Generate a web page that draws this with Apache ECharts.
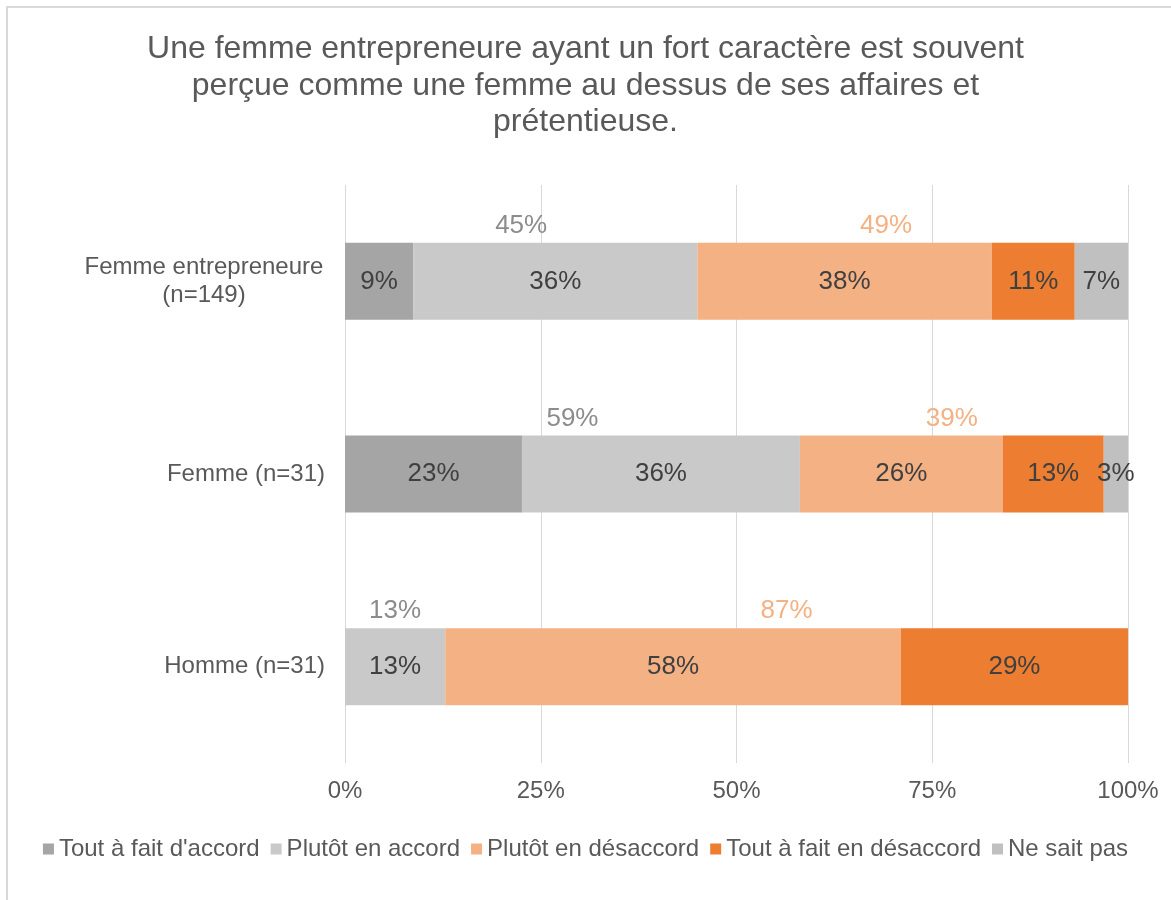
<!DOCTYPE html>
<html>
<head>
<meta charset="utf-8">
<script src="https://cdn.jsdelivr.net/npm/echarts@6/dist/echarts.min.js"></script>
<style>
  html, body { margin: 0; padding: 0; background: #fff; }
  #main { width: 1171px; height: 900px; }
</style>
</head>
<body>
<div id="main"></div>
<script>
// catégories (de haut en bas)
const categories = ['Femme entrepreneure\n(n=149)', 'Femme (n=31)', 'Homme (n=31)'];

// valeurs en %
const toutAccord = [8.7, 22.6, 0];
const plutotAccord = [36.3, 35.5, 12.8];
const plutotDesaccord = [37.6, 25.9, 58.2];
const toutDesaccord = [10.6, 12.9, 29.0];
const neSaitPas = [6.8, 3.1, 0];

// totaux affichés au-dessus des barres
const totalAccordLabels = ['45%', '59%', '13%'];
const totalDesaccordLabels = ['49%', '39%', '87%'];

const xTicks = [0, 25, 50, 75, 100];

const seriesNames = ["Tout à fait d'accord", 'Plutôt en accord', 'Plutôt en désaccord', 'Tout à fait en désaccord', 'Ne sait pas'];
const seriesData = [toutAccord, plutotAccord, plutotDesaccord, toutDesaccord, neSaitPas];
const colors = ['#a5a5a5', '#c9c9c9', '#f4b183', '#ed7d31', '#c0c0c0'];

const font = '"Liberation Sans", Arial, sans-serif';
const textColor = '#595959';
const BAR_W = 77;

const chart = echarts.init(document.getElementById('main'));

const mainSeries = seriesNames.map((name, i) => ({
  name: name,
  type: 'bar',
  stack: 'main',
  barWidth: BAR_W,
  data: seriesData[i],
  itemStyle: { color: colors[i] },
  label: {
    show: true,
    position: 'inside',
    fontFamily: font,
    fontSize: 26,
    color: '#404040',
    formatter: p => (p.value > 0 ? Math.round(p.value) + '%' : '')
  },
  emphasis: { disabled: true }
}));

// barres transparentes pour placer les totaux
const accordSum = toutAccord.map((v, i) => v + plutotAccord[i]);
const desaccordSum = plutotDesaccord.map((v, i) => v + toutDesaccord[i]);

const totalSeries = [
  { data: accordSum, labels: totalAccordLabels, color: '#8c8c8c' },
  { data: desaccordSum, labels: totalDesaccordLabels, color: '#f4b183' }
].map(s => ({
  type: 'bar',
  stack: 'total',
  barWidth: BAR_W,
  barGap: '-100%',
  data: s.data,
  silent: true,
  itemStyle: { color: 'rgba(0,0,0,0)' },
  label: {
    show: true,
    position: 'top',
    distance: 4,
    fontFamily: font,
    fontSize: 26,
    color: s.color,
    formatter: p => s.labels[p.dataIndex]
  },
  emphasis: { disabled: true }
}));

const option = {
  animation: false,
  color: colors,
  title: {
    text: 'Une femme entrepreneure ayant un fort caractère est souvent\nperçue comme une femme au dessus de ses affaires et\nprétentieuse.',
    left: 'center',
    top: 26,
    textStyle: {
      fontFamily: font,
      fontSize: 32,
      fontWeight: 'normal',
      color: textColor,
      lineHeight: 36.5
    }
  },
  legend: {
    data: seriesNames,
    bottom: 34,
    left: 'center',
    icon: 'rect',
    itemWidth: 11,
    itemHeight: 11,
    itemGap: 11,
    textStyle: { fontFamily: font, fontSize: 24, color: textColor }
  },
  grid: { left: 345, right: 43, top: 185, bottom: 137 },
  xAxis: {
    type: 'value',
    min: xTicks[0],
    max: xTicks[xTicks.length - 1],
    interval: 25,
    axisLine: { show: false },
    axisTick: { show: false },
    splitLine: { lineStyle: { color: '#d9d9d9', width: 1 } },
    axisLabel: {
      fontFamily: font,
      fontSize: 24,
      color: textColor,
      margin: 16,
      formatter: '{value}%'
    }
  },
  yAxis: {
    type: 'category',
    inverse: true,
    data: categories,
    axisLine: { show: false },
    axisTick: { show: false },
    axisLabel: {
      fontFamily: font,
      fontSize: 24,
      color: textColor,
      margin: 20,
      lineHeight: 28,
      formatter: v => v.indexOf('\n') >= 0
        ? v.split('\n').map(l => '{c|' + l + '}').join('\n')
        : v,
      rich: {
        c: { width: 242, align: 'center', fontFamily: font, fontSize: 24, color: textColor, lineHeight: 28 }
      }
    }
  },
  graphic: [
    { type: 'line', shape: { x1: 6, y1: 7, x2: 1171, y2: 7 }, style: { stroke: '#d9d9d9', lineWidth: 2 } },
    { type: 'line', shape: { x1: 7, y1: 6, x2: 7, y2: 900 }, style: { stroke: '#d9d9d9', lineWidth: 2 } }
  ],
  series: mainSeries.concat(totalSeries)
};

chart.setOption(option);
window.addEventListener('resize', () => chart.resize());
</script>
</body>
</html>
